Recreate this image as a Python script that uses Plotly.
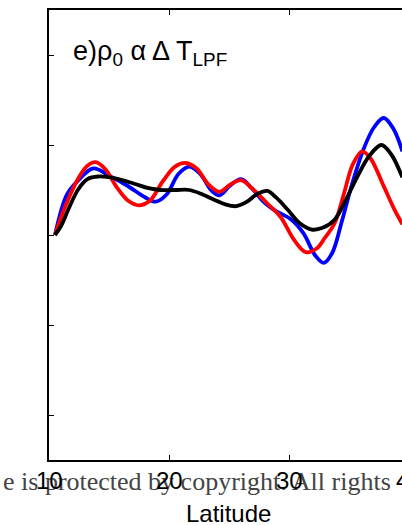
import plotly.graph_objects as go

# Data (latitude, anomaly in tick units)
blue_x = [10.5, 11.5, 12.4, 13.7, 15.0, 16.5, 18.0, 18.9, 19.8, 20.8, 21.7, 22.6, 23.5, 24.2, 25.1, 26.0,
          26.9, 27.8, 28.75, 30.2, 31.2, 32.2, 32.9, 33.6, 34.4, 35.2, 36.2, 37.1, 37.9, 38.7, 39.45]
blue_y = [0.0, 0.45, 0.6, 0.74, 0.66, 0.55, 0.42, 0.37, 0.45, 0.68, 0.76, 0.68, 0.5, 0.44, 0.55, 0.62,
          0.52, 0.38, 0.28, 0.17, 0.02, -0.23, -0.31, -0.2, 0.15, 0.54, 0.95, 1.2, 1.3, 1.18, 0.93]

red_x = [10.5, 11.3, 12.4, 13.2, 13.9, 14.7, 15.7, 16.6, 17.5, 18.4, 19.5, 20.5, 21.4, 22.3, 23.3, 24.2,
         25.1, 26.0, 26.9, 28.2, 29.3, 30.4, 31.4, 32.3, 33.0, 33.8, 34.6, 35.3, 36.1, 36.8, 37.9, 38.8, 39.45]
red_y = [0.0, 0.3, 0.62, 0.77, 0.81, 0.73, 0.52, 0.38, 0.33, 0.38, 0.6, 0.76, 0.8, 0.74, 0.56, 0.48,
         0.56, 0.61, 0.52, 0.35, 0.2, -0.05, -0.19, -0.15, -0.03, 0.13, 0.47, 0.78, 0.93, 0.85, 0.54, 0.28, 0.12]

black_x = [10.5, 11.0, 11.6, 12.4, 13.2, 14.1, 15.5, 17.1, 18.3, 19.3, 20.5, 21.7, 22.8, 23.8, 24.7, 25.6,
           26.5, 27.4, 28.2, 28.9, 29.9, 30.9, 31.9, 32.8, 33.8, 34.7, 35.7, 36.7, 37.7, 38.5, 39.45]
black_y = [0.0, 0.1, 0.28, 0.5, 0.62, 0.65, 0.63, 0.57, 0.52, 0.5, 0.5, 0.5, 0.45, 0.39, 0.34, 0.32,
           0.37, 0.46, 0.49, 0.42, 0.28, 0.13, 0.06, 0.08, 0.17, 0.38, 0.65, 0.88, 1.0, 0.9, 0.64]

x_ticks = [10, 20, 30, 40]
y_ticks = [-2, -1, 0, 1, 2]

W, H = 402, 525
L, T, PW, PH = 49, 10, 353, 450
X0, PX_PER_UNIT = 10, 12  # axis starts at latitude 10, 12 px per degree

fig = go.Figure()
for xs, ys, col in [(blue_x, blue_y, "#0000ff"), (red_x, red_y, "#ff0000"), (black_x, black_y, "#000000")]:
    fig.add_trace(go.Scatter(x=xs, y=ys, mode="lines",
                             line=dict(color=col, width=3.8, shape="spline", smoothing=1.0),
                             showlegend=False, hoverinfo="skip"))

annotations = []
# Watermark (behind tick labels)
annotations.append(dict(text="e is protected by copyright. All rights", xref="paper", yref="paper",
                        x=(1 - L) / PW, y=0, xanchor="left", yanchor="top", yshift=-5, showarrow=False,
                        font=dict(family="Liberation Serif", size=26, color="#444444")))
# tick labels (paper refs so the partly hidden "40" past the right edge is still drawn)
for t in x_ticks:
    annotations.append(dict(text=str(t), xref="paper", yref="paper",
                            x=(t - X0) * PX_PER_UNIT / PW, y=0, xanchor="center",
                            yanchor="top", yshift=-5, showarrow=False,
                            font=dict(family="Liberation Sans", size=24, color="#000000")))
annotations.append(dict(text="Latitude", xref="paper", yref="paper", x=(228.5 - L) / PW, y=0,
                        xanchor="center", yanchor="top", yshift=-38, showarrow=False,
                        font=dict(family="Liberation Sans", size=24, color="#000000")))
annotations.append(dict(text="e)ρ<sub>0</sub> α Δ T<sub>LPF</sub>", xref="paper", yref="paper",
                        x=(71 - L) / PW, y=(PH - 24) / PH, xanchor="left", yanchor="top",
                        showarrow=False,
                        font=dict(family="Liberation Sans", size=27, color="#000000")))

fig.update_layout(
    width=W, height=H,
    margin=dict(l=L, r=W - L - PW, t=T, b=H - T - PH),
    paper_bgcolor="white", plot_bgcolor="white",
    annotations=annotations,
    xaxis=dict(range=[X0, X0 + PW / PX_PER_UNIT], tickvals=x_ticks, showticklabels=False,
               ticks="inside", ticklen=5, tickwidth=1, tickcolor="black",
               showline=True, linecolor="black", linewidth=1.5, mirror="ticks",
               showgrid=False, zeroline=False),
    yaxis=dict(range=[-2.5, 2.5], tickvals=y_ticks, showticklabels=False,
               ticks="inside", ticklen=5, tickwidth=1, tickcolor="black",
               showline=True, linecolor="black", linewidth=1.5, mirror=False,
               showgrid=False, zeroline=False),
)

fig.write_html("out.html", config={"displayModeBar": False},
               post_script="document.body.style.margin='0';document.body.style.overflow='hidden';")
